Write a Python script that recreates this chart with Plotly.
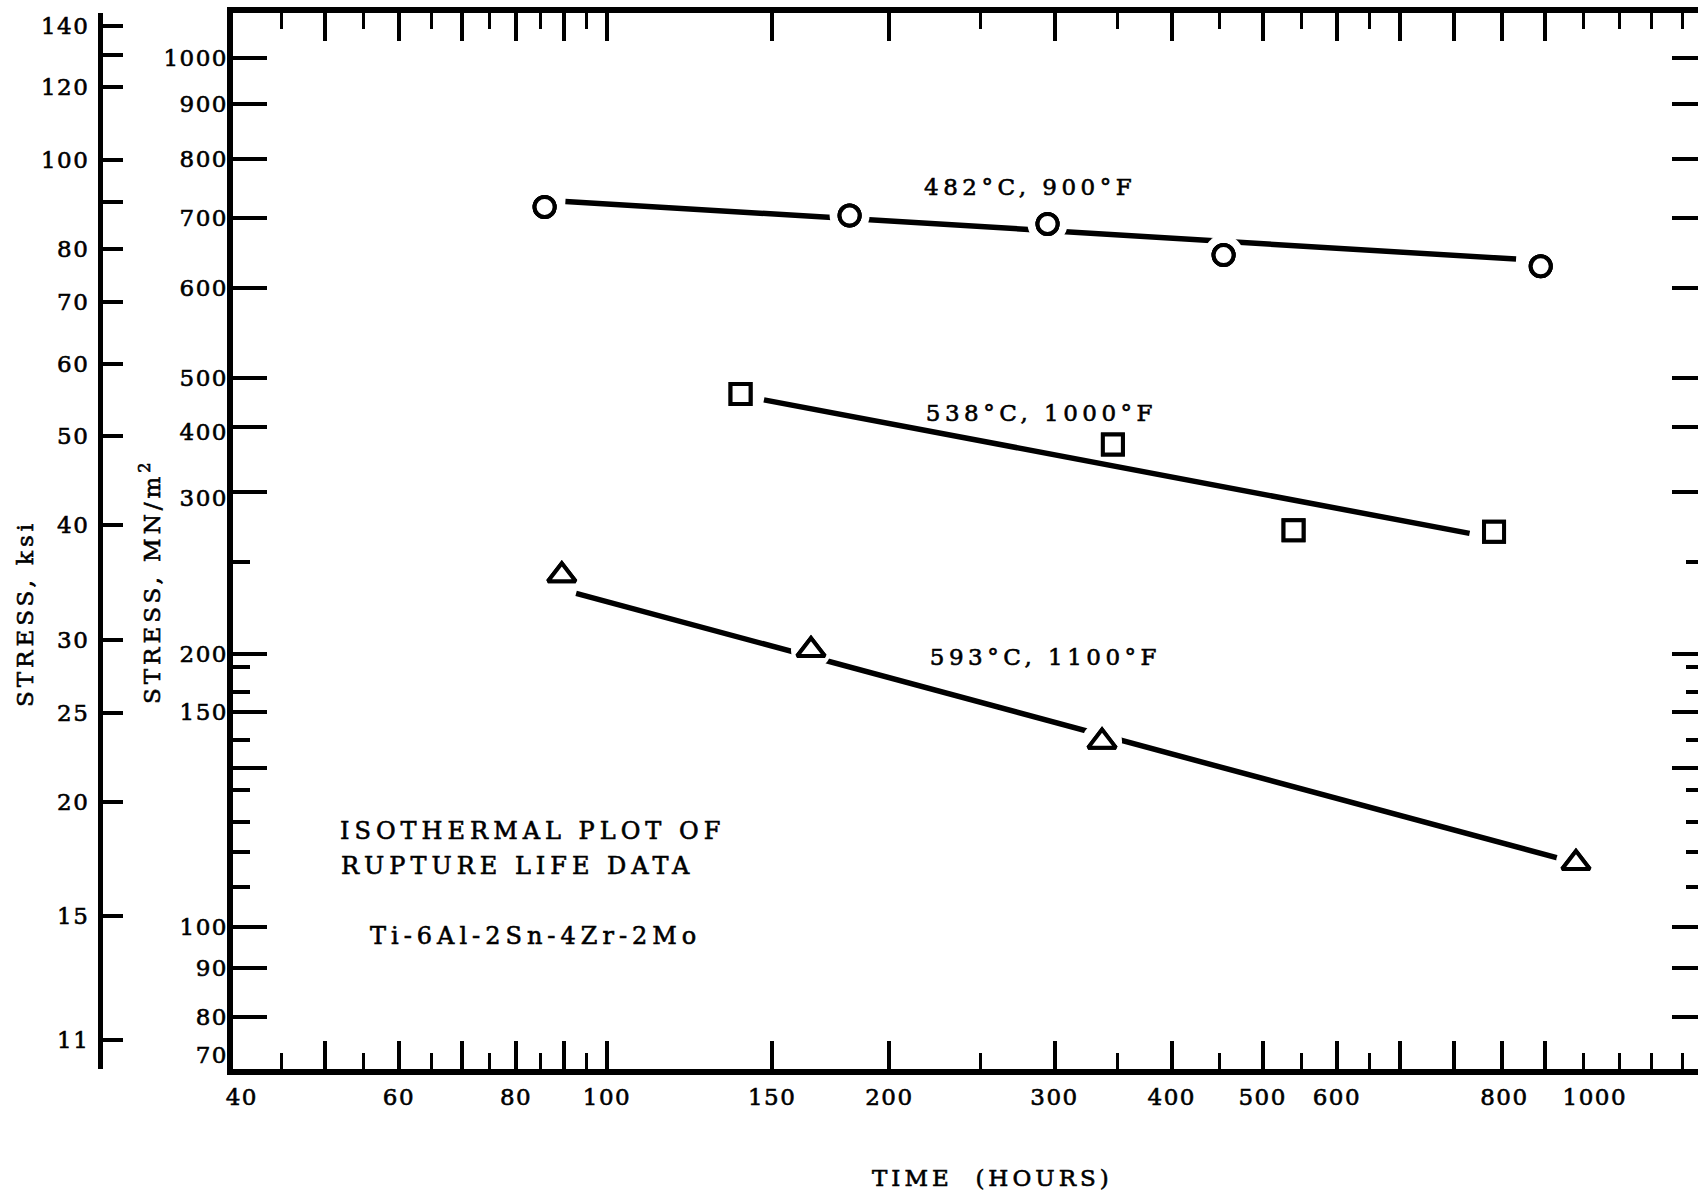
import plotly.graph_objects as go

FONT = "DejaVu Serif"
INK = "#000000"

# ---- rupture data: time to rupture (hours) vs stress (ksi) ----
t_482 = [85.8, 181.4, 294.9, 454.3, 989.5]
s_482 = [88.9, 87.0, 85.2, 78.8, 76.6]
t_538 = [138.8, 346.2, 539.4, 882.4]
s_538 = [55.6, 49.0, 39.5, 39.35]
t_593 = [89.5, 165.0, 337.1, 1079.0]
s_593 = [35.3, 29.26, 23.25, 17.15]

# isothermal fit lines, given by their two end points
fit_482_t = [90.3, 931.4]
fit_482_s = [90.15, 78.0]
fit_538_t = [147.0, 831.0]
fit_538_s = [54.8, 39.2]
fit_593_t = [92.7, 1050.0]
fit_593_s = [33.73, 17.28]

# ---- axis scales ----
# ksi scale
ksi_ticks = [140, 120, 100, 80, 70, 60, 50, 40, 30, 25, 20, 15, 11]
ksi_labels = ["140", "120", "100", "80", "70", "60", "50", "40",
              "30", "25", "20", "15", "11"]
ksi_unlabelled = [130, 90]

# MN/m^2 scale, expressed as positions on the ksi scale
mn_labels = ["1000", "900", "800", "700", "600", "500", "400", "300",
             "200", "150", "100", "90", "80", "70"]
mn_label_at = [129.2, 115.1, 100.25, 86.5, 72.55, 57.88, 50.6, 42.9,
               28.96, 25.04, 14.60, 13.17, 11.65, 10.59]
mn_major_at = [129.2, 115.1, 100.25, 86.5, 72.55, 57.88, 51.19, 43.48,
               28.96, 25.04, 21.77, 14.60, 13.17, 11.65]
mn_minor_at = [36.49, 28.04, 26.33, 23.35, 20.59, 19.01, 17.62, 16.14]

# time scale
x_major = [50, 60, 70, 80, 90, 100, 150, 200, 300, 400, 500, 600,
           700, 800, 900, 1000]
x_minor = [45, 55, 65, 75, 85, 95, 250, 350, 450, 550, 650,
           1100, 1200, 1300, 1400]
x_labels = ["40", "60", "80", "100", "150", "200", "300", "400", "500",
            "600", "800", "1000"]
x_label_at = [40.8, 60, 80, 100, 150, 200, 300, 400, 500, 600, 905, 1130]

x_range = [1.6013, 3.1631]   # log10 hours
y_range = [1.0098, 2.1602]   # log10 ksi

# ---- page geometry (pixels) ----
W, H = 1698, 1198
FRAME_L, FRAME_R, FRAME_T, FRAME_B = 233, 1698, 13, 1069
KSI_AXIS_X = 100

dom_x = [FRAME_L / W, FRAME_R / W]
dom_y = [1 - FRAME_B / H, 1 - FRAME_T / H]


def px(x, y):
    return x / W, 1 - y / H


fig = go.Figure()

# fit lines
for t, s in [(fit_482_t, fit_482_s), (fit_538_t, fit_538_s), (fit_593_t, fit_593_s)]:
    fig.add_trace(go.Scatter(x=t, y=s, mode="lines",
                             line=dict(color=INK, width=5.5),
                             hoverinfo="skip", showlegend=False))

# white break in the line around each point
for t, s in [(t_482, s_482), (t_593, s_593)]:
    fig.add_trace(go.Scatter(x=t, y=s, mode="markers",
                             marker=dict(symbol="circle", size=40, color="white",
                                         line=dict(width=0)),
                             hoverinfo="skip", showlegend=False))

# data points
series = [(t_482, s_482, "circle", 20),
          (t_538, s_538, "square", 20),
          (t_593, s_593, "triangle-up", 24)]


def point_trace(t, s, sym, size, xa="x", ya="y"):
    return go.Scatter(x=t, y=s, mode="markers", xaxis=xa, yaxis=ya,
                      marker=dict(symbol=sym, size=size, color="white",
                                  line=dict(color=INK, width=4)),
                      showlegend=False)


for t, s, sym, size in series:
    fig.add_trace(point_trace(t, s, sym, size))

# the same points again on each overlaid axis pair, so every scale is drawn
for (t, s, sym, size), (xa, ya) in zip(series + [series[0]],
                                       [("x", "y2"), ("x", "y3"), ("x", "y4"), ("x2", "y")]):
    fig.add_trace(point_trace(t, s, sym, size, xa, ya))

tick_font = dict(family=FONT, size=23, color=INK)
no_grid = dict(showgrid=False, zeroline=False, automargin=False)

fig.update_layout(
    width=W, height=H,
    margin=dict(l=0, r=0, t=0, b=0, pad=0, autoexpand=False),
    paper_bgcolor="white", plot_bgcolor="white",
    showlegend=False,
    # time axis: line and tick marks, mirrored on top
    xaxis=dict(type="log", range=x_range, domain=dom_x, anchor="y",
               showline=True, linewidth=6, linecolor=INK, mirror="ticks",
               ticks="inside", tickmode="array", tickvals=x_major,
               ticklen=28, tickwidth=3.5, tickcolor=INK,
               showticklabels=False,
               minor=dict(tickmode="array", tickvals=x_minor, ticks="inside",
                          ticklen=16, tickwidth=3, tickcolor=INK, showgrid=False),
               **no_grid),
    # time axis labels
    xaxis2=dict(type="log", range=x_range, domain=dom_x, overlaying="x",
                anchor="y", side="bottom", showline=False, ticks="",
                tickmode="array", tickvals=x_label_at, ticktext=x_labels,
                tickfont=tick_font, ticklabelstandoff=12, **no_grid),
    # MN/m^2 axis: line and tick marks on the frame
    yaxis=dict(type="log", range=y_range, domain=dom_y, anchor="x",
               showline=True, linewidth=6, linecolor=INK,
               ticks="inside", tickmode="array", tickvals=mn_major_at,
               ticklen=34, tickwidth=4, tickcolor=INK, showticklabels=False,
               minor=dict(tickmode="array", tickvals=mn_minor_at, ticks="inside",
                          ticklen=17, tickwidth=3.5, tickcolor=INK, showgrid=False),
               **no_grid),
    # ksi axis, set out to the left
    yaxis2=dict(type="log", range=y_range, domain=dom_y, overlaying="y",
                anchor="free", position=KSI_AXIS_X / W, side="left",
                showline=True, linewidth=5, linecolor=INK,
                ticks="inside", tickmode="array", tickvals=ksi_ticks,
                ticktext=ksi_labels, ticklen=20, tickwidth=4, tickcolor=INK,
                tickfont=tick_font, ticklabelstandoff=4,
                minor=dict(tickmode="array", tickvals=ksi_unlabelled, ticks="inside",
                           ticklen=20, tickwidth=4, tickcolor=INK, showgrid=False),
                **no_grid),
    # tick marks along the right edge
    yaxis3=dict(type="log", range=y_range, domain=dom_y, overlaying="y",
                anchor="x", side="right", showline=False,
                ticks="inside", tickmode="array", tickvals=mn_major_at,
                ticklen=26, tickwidth=4, tickcolor=INK, showticklabels=False,
                minor=dict(tickmode="array", tickvals=mn_minor_at, ticks="inside",
                           ticklen=12, tickwidth=3.5, tickcolor=INK, showgrid=False),
                **no_grid),
    # MN/m^2 labels
    yaxis4=dict(type="log", range=y_range, domain=dom_y, overlaying="y",
                anchor="x", side="left", showline=False, ticks="",
                tickmode="array", tickvals=mn_label_at, ticktext=mn_labels,
                tickfont=tick_font, ticklabelstandoff=4, **no_grid),
)

# (text, x px, y px, anchor, angle, font size, letter spacing px)
notes = [
    ("482°C, 900°F", 1030, 187, "center", 0, 23, 4.5),
    ("538°C, 1000°F", 1041, 413, "center", 0, 23, 4.5),
    ("593°C, 1100°F", 1045, 657, "center", 0, 23, 4.5),
    ("ISOTHERMAL PLOT OF", 338, 831, "left", 0, 24, 5),
    ("RUPTURE LIFE DATA", 339, 866, "left", 0, 24, 5),
    ("Ti-6Al-2Sn-4Zr-2Mo", 368, 936, "left", 0, 24, 5),
    ("STRESS, ksi", 25, 614, "center", -90, 23, 4),
    ("STRESS, MN/m<sup>2</sup>", 150, 581, "center", -90, 23, 4),
    ("TIME  (HOURS)", 992, 1178, "center", 0, 23, 4),
]
for text, x, y, anchor, angle, size, _ in notes:
    xp, yp = px(x, y)
    fig.add_annotation(text=text, x=xp, y=yp, xref="paper", yref="paper",
                       xanchor=anchor, yanchor="middle", align=anchor,
                       textangle=angle, showarrow=False,
                       font=dict(family=FONT, size=size, color=INK))

spacing = [n[6] for n in notes]

# typewriter-style letter spacing and a heavier ink stroke for the printed text
spacing_js = """
var gd = document.getElementById('{plot_id}');
var noteSpacing = %s;
function ink(el, spread) {
  el.style.letterSpacing = spread;
  el.style.stroke = '#000';
  el.style.strokeWidth = '0.6px';
}
gd.querySelectorAll('.x2tick text, .y2tick text, .y4tick text').forEach(function (el) {
  ink(el, '1.5px');
});
gd.querySelectorAll('.annotation').forEach(function (g) {
  var i = parseInt(g.getAttribute('data-index'), 10);
  g.querySelectorAll('.annotation-text').forEach(function (el) {
    ink(el, noteSpacing[i] + 'px');
  });
});
""" % spacing

fig.write_html("out.html", post_script=spacing_js)
